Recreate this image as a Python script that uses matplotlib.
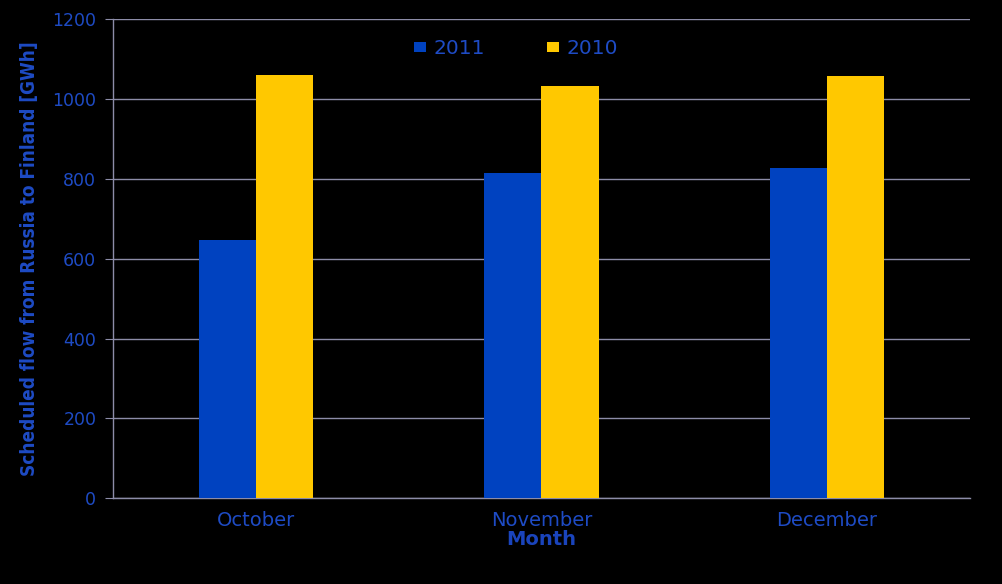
import matplotlib
matplotlib.use('Agg')
import matplotlib.pyplot as plt
import numpy as np

months = ['October', 'November', 'December']
flow_2011 = [647, 815, 826]
flow_2010 = [1061, 1032, 1057]
yticks = [0, 200, 400, 600, 800, 1000, 1200]

blue = '#0042c0'
yellow = '#ffc800'
text_blue = '#1e4bc4'
grid_col = '#8c8ca8'

fig = plt.figure(figsize=(10.02, 5.84), dpi=100, facecolor='black')
ax = fig.add_axes([0.1128, 0.1467, 0.8552, 0.8208], facecolor='black')

x = np.arange(len(months))
w = 0.2
ax.bar(x - w / 2, flow_2011, w, color=blue, label='2011', zorder=3)
ax.bar(x + w / 2, flow_2010, w, color=yellow, label='2010', zorder=3)

ax.set_xlim(-0.5, 2.5)
ax.set_ylim(0, 1200)
ax.set_yticks(yticks)
ax.set_xticks(x)
ax.set_xticklabels(months)
ax.yaxis.grid(True, color=grid_col, linewidth=1, zorder=0)

for s in ['top', 'right']:
    ax.spines[s].set_visible(False)
for s in ['left', 'bottom']:
    ax.spines[s].set_color(grid_col)
    ax.spines[s].set_linewidth(1)

ax.tick_params(axis='y', colors=grid_col, labelcolor=text_blue, length=6, pad=6,
               labelsize=12.5)
ax.tick_params(axis='x', length=0, pad=9, labelcolor=text_blue, labelsize=14)

ax.set_xlabel('Month', color='#1a44bc', fontsize=14, fontweight='bold', labelpad=0)
ylab = ax.set_ylabel('Scheduled flow from Russia to Finland [GWh]', color=text_blue,
                     fontsize=15, fontstretch='condensed', fontweight='bold',
                     family=['DejaVu Sans'])
ax.yaxis.set_label_coords(-0.0865, 0.5)

leg = ax.legend(loc='upper center', bbox_to_anchor=(0.47, 1.0), ncol=2, frameon=False,
                fontsize=14.5, handlelength=0.6, handleheight=0.4, handletextpad=0.35,
                columnspacing=3.1, borderaxespad=0.6)
for t in leg.get_texts():
    t.set_color(text_blue)

# fit the y label to the length it has in the reference (~437 px)
fig.canvas.draw()
h = ylab.get_window_extent().height
ylab.set_fontsize(15 * 437 / h)

fig.savefig('out.png', dpi=100, facecolor='black')
